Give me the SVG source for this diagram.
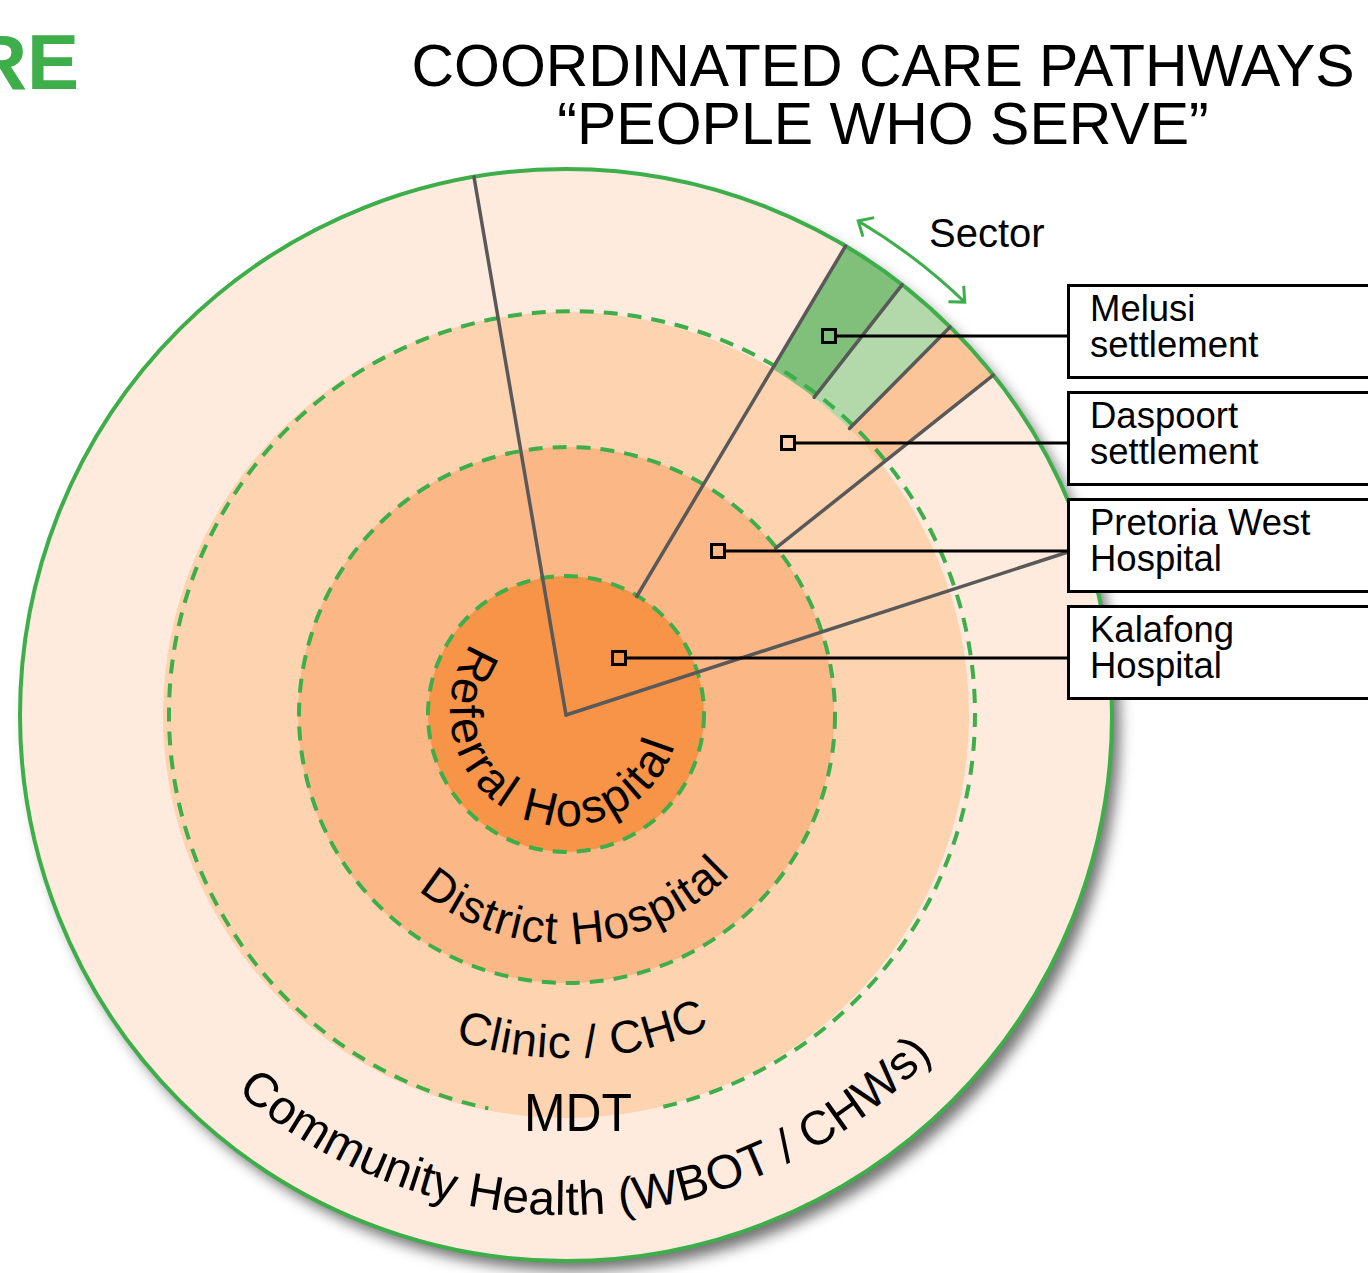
<svg xmlns="http://www.w3.org/2000/svg" width="1368" height="1273" viewBox="0 0 1368 1273">
<defs>
<style>
.t{font-family:"Liberation Sans",Arial,sans-serif;fill:#000}
.sl{stroke:#595959;stroke-width:3.5;fill:none;stroke-linecap:round}
.dash{fill:none;stroke:#3DAE49;stroke-width:4;stroke-dasharray:14 10}
.box{fill:#fff;stroke:#000;stroke-width:3}
.sq{fill:none;stroke:#000;stroke-width:3}
.con{stroke:#000;stroke-width:3;fill:none}
.bt{font-size:36.5px}
.title{font-size:59px}
</style>
<filter id="sh" x="-10%" y="-10%" width="125%" height="125%">
<feDropShadow dx="8" dy="10" stdDeviation="7" flood-color="#000" flood-opacity="0.55"/>
</filter>
<marker id="chev" viewBox="-16 -16 32 32" markerWidth="32" markerHeight="32" markerUnits="userSpaceOnUse" refX="0" refY="0" orient="auto-start-reverse">
<path d="M -12 -11 L 0 0 L -12 11" fill="none" stroke="#3DAE49" stroke-width="3"/>
</marker>
<path id="pRef" d="M 557 596.3 A 115 115 0 1 0 660.3 646.7"/>
<path id="pDis" d="M 338.7 687.1 A 229 229 0 1 0 789.1 663.5"/>
<path id="pCli" d="M 225.6 673.2 A 343 343 0 1 0 900.2 637.8"/>
<path id="pCom" d="M 120.5 488 A 500 500 0 1 0 985.4 442.7"/>
</defs>

<g id="title">
<text class="t" x="79" y="89" text-anchor="end" font-weight="bold" font-size="78" style="fill:#3DAE49">RE</text>
<text class="t title" x="883" y="86" text-anchor="middle" textLength="943" lengthAdjust="spacingAndGlyphs">COORDINATED CARE PATHWAYS</text>
<text class="t title" x="883" y="144" text-anchor="middle">“PEOPLE WHO SERVE”</text>
</g>

<g id="rings">
<circle cx="566" cy="715" r="546" fill="#FEEBDD" filter="url(#sh)"/>
<path d="M 566 715 L 845.6 246.0 A 546 546 0 0 1 902.2 284.7 Z" fill="#80C07A"/>
<path d="M 566 715 L 902.2 284.7 A 546 546 0 0 1 950.1 326.9 Z" fill="#B3D8AA"/>
<path d="M 566 715 L 950.1 326.9 A 546 546 0 0 1 993.3 375.1 Z" fill="#FCC599"/>
<circle cx="566" cy="715" r="403" fill="#FDD3B0"/>
<circle cx="566" cy="715" r="268" fill="#FBB886"/>
<circle cx="566" cy="714" r="138" fill="#F79447"/>
<path class="dash" d="M 663.3 1106.7 A 403 403 0 1 0 488.3 1108.4"/>
<circle class="dash" cx="567" cy="715" r="268"/>
<circle class="dash" cx="566" cy="714" r="138"/>
<circle cx="566" cy="715" r="546" fill="none" stroke="#3DAE49" stroke-width="4"/>
</g>

<g id="sector-lines">
<line class="sl" x1="566" y1="715" x2="474" y2="177"/>
<line class="sl" x1="566" y1="715" x2="1068" y2="552"/>
<line class="sl" x1="636.7" y1="596.5" x2="845.6" y2="246"/>
<line class="sl" x1="814.1" y1="397.4" x2="902.2" y2="284.7"/>
<line class="sl" x1="849.5" y1="428.5" x2="950.1" y2="326.9"/>
<line class="sl" x1="775.7" y1="548.2" x2="993.3" y2="375.1"/>
</g>

<g id="sector-arrow">
<path d="M 858.2 221 A 574 574 0 0 1 964.7 302.1" fill="none" stroke="#3DAE49" stroke-width="3" marker-start="url(#chev)" marker-end="url(#chev)"/>
<text class="t" x="929" y="247" font-size="40">Sector</text>
</g>

<g id="ring-labels">
<text class="t" font-size="47" letter-spacing="3"><textPath href="#pRef" startOffset="50%" text-anchor="middle">Referral Hospital</textPath></text>
<text class="t" font-size="46" letter-spacing="1.5"><textPath href="#pDis" startOffset="50%" text-anchor="middle">District Hospital</textPath></text>
<text class="t" font-size="46" letter-spacing="1"><textPath href="#pCli" startOffset="50%" text-anchor="middle">Clinic / CHC</textPath></text>
<text class="t" font-size="48" letter-spacing="0.3"><textPath href="#pCom" startOffset="50%" text-anchor="middle">Community Health (WBOT / CHWs)</textPath></text>
<text class="t" x="524" y="1131" font-size="54" textLength="108" lengthAdjust="spacingAndGlyphs">MDT</text>
</g>

<g id="connectors">
<line class="con" x1="837" y1="336" x2="1068" y2="336"/>
<line class="con" x1="796" y1="443" x2="1068" y2="443"/>
<line class="con" x1="726" y1="551" x2="1068" y2="551"/>
<line class="con" x1="627" y1="658" x2="1068" y2="658"/>
</g>

<g id="markers">
<rect class="sq" x="822.5" y="329.5" width="13" height="13"/>
<rect class="sq" x="781.5" y="436.5" width="13" height="13"/>
<rect class="sq" x="711.5" y="544.5" width="13" height="13"/>
<rect class="sq" x="612.5" y="651.5" width="13" height="13"/>
</g>

<g id="node-melusi">
<rect class="box" x="1068.5" y="285.5" width="330" height="92"/>
<text class="t bt" x="1090" y="321">Melusi</text>
<text class="t bt" x="1090" y="357">settlement</text>
</g>
<g id="node-daspoort">
<rect class="box" x="1068.5" y="392.5" width="330" height="92"/>
<text class="t bt" x="1090" y="428">Daspoort</text>
<text class="t bt" x="1090" y="464">settlement</text>
</g>
<g id="node-pretoria">
<rect class="box" x="1068.5" y="499.5" width="330" height="92"/>
<text class="t bt" x="1090" y="535">Pretoria West</text>
<text class="t bt" x="1090" y="571">Hospital</text>
</g>
<g id="node-kalafong">
<rect class="box" x="1068.5" y="606.5" width="330" height="92"/>
<text class="t bt" x="1090" y="642">Kalafong</text>
<text class="t bt" x="1090" y="678">Hospital</text>
</g>
</svg>
